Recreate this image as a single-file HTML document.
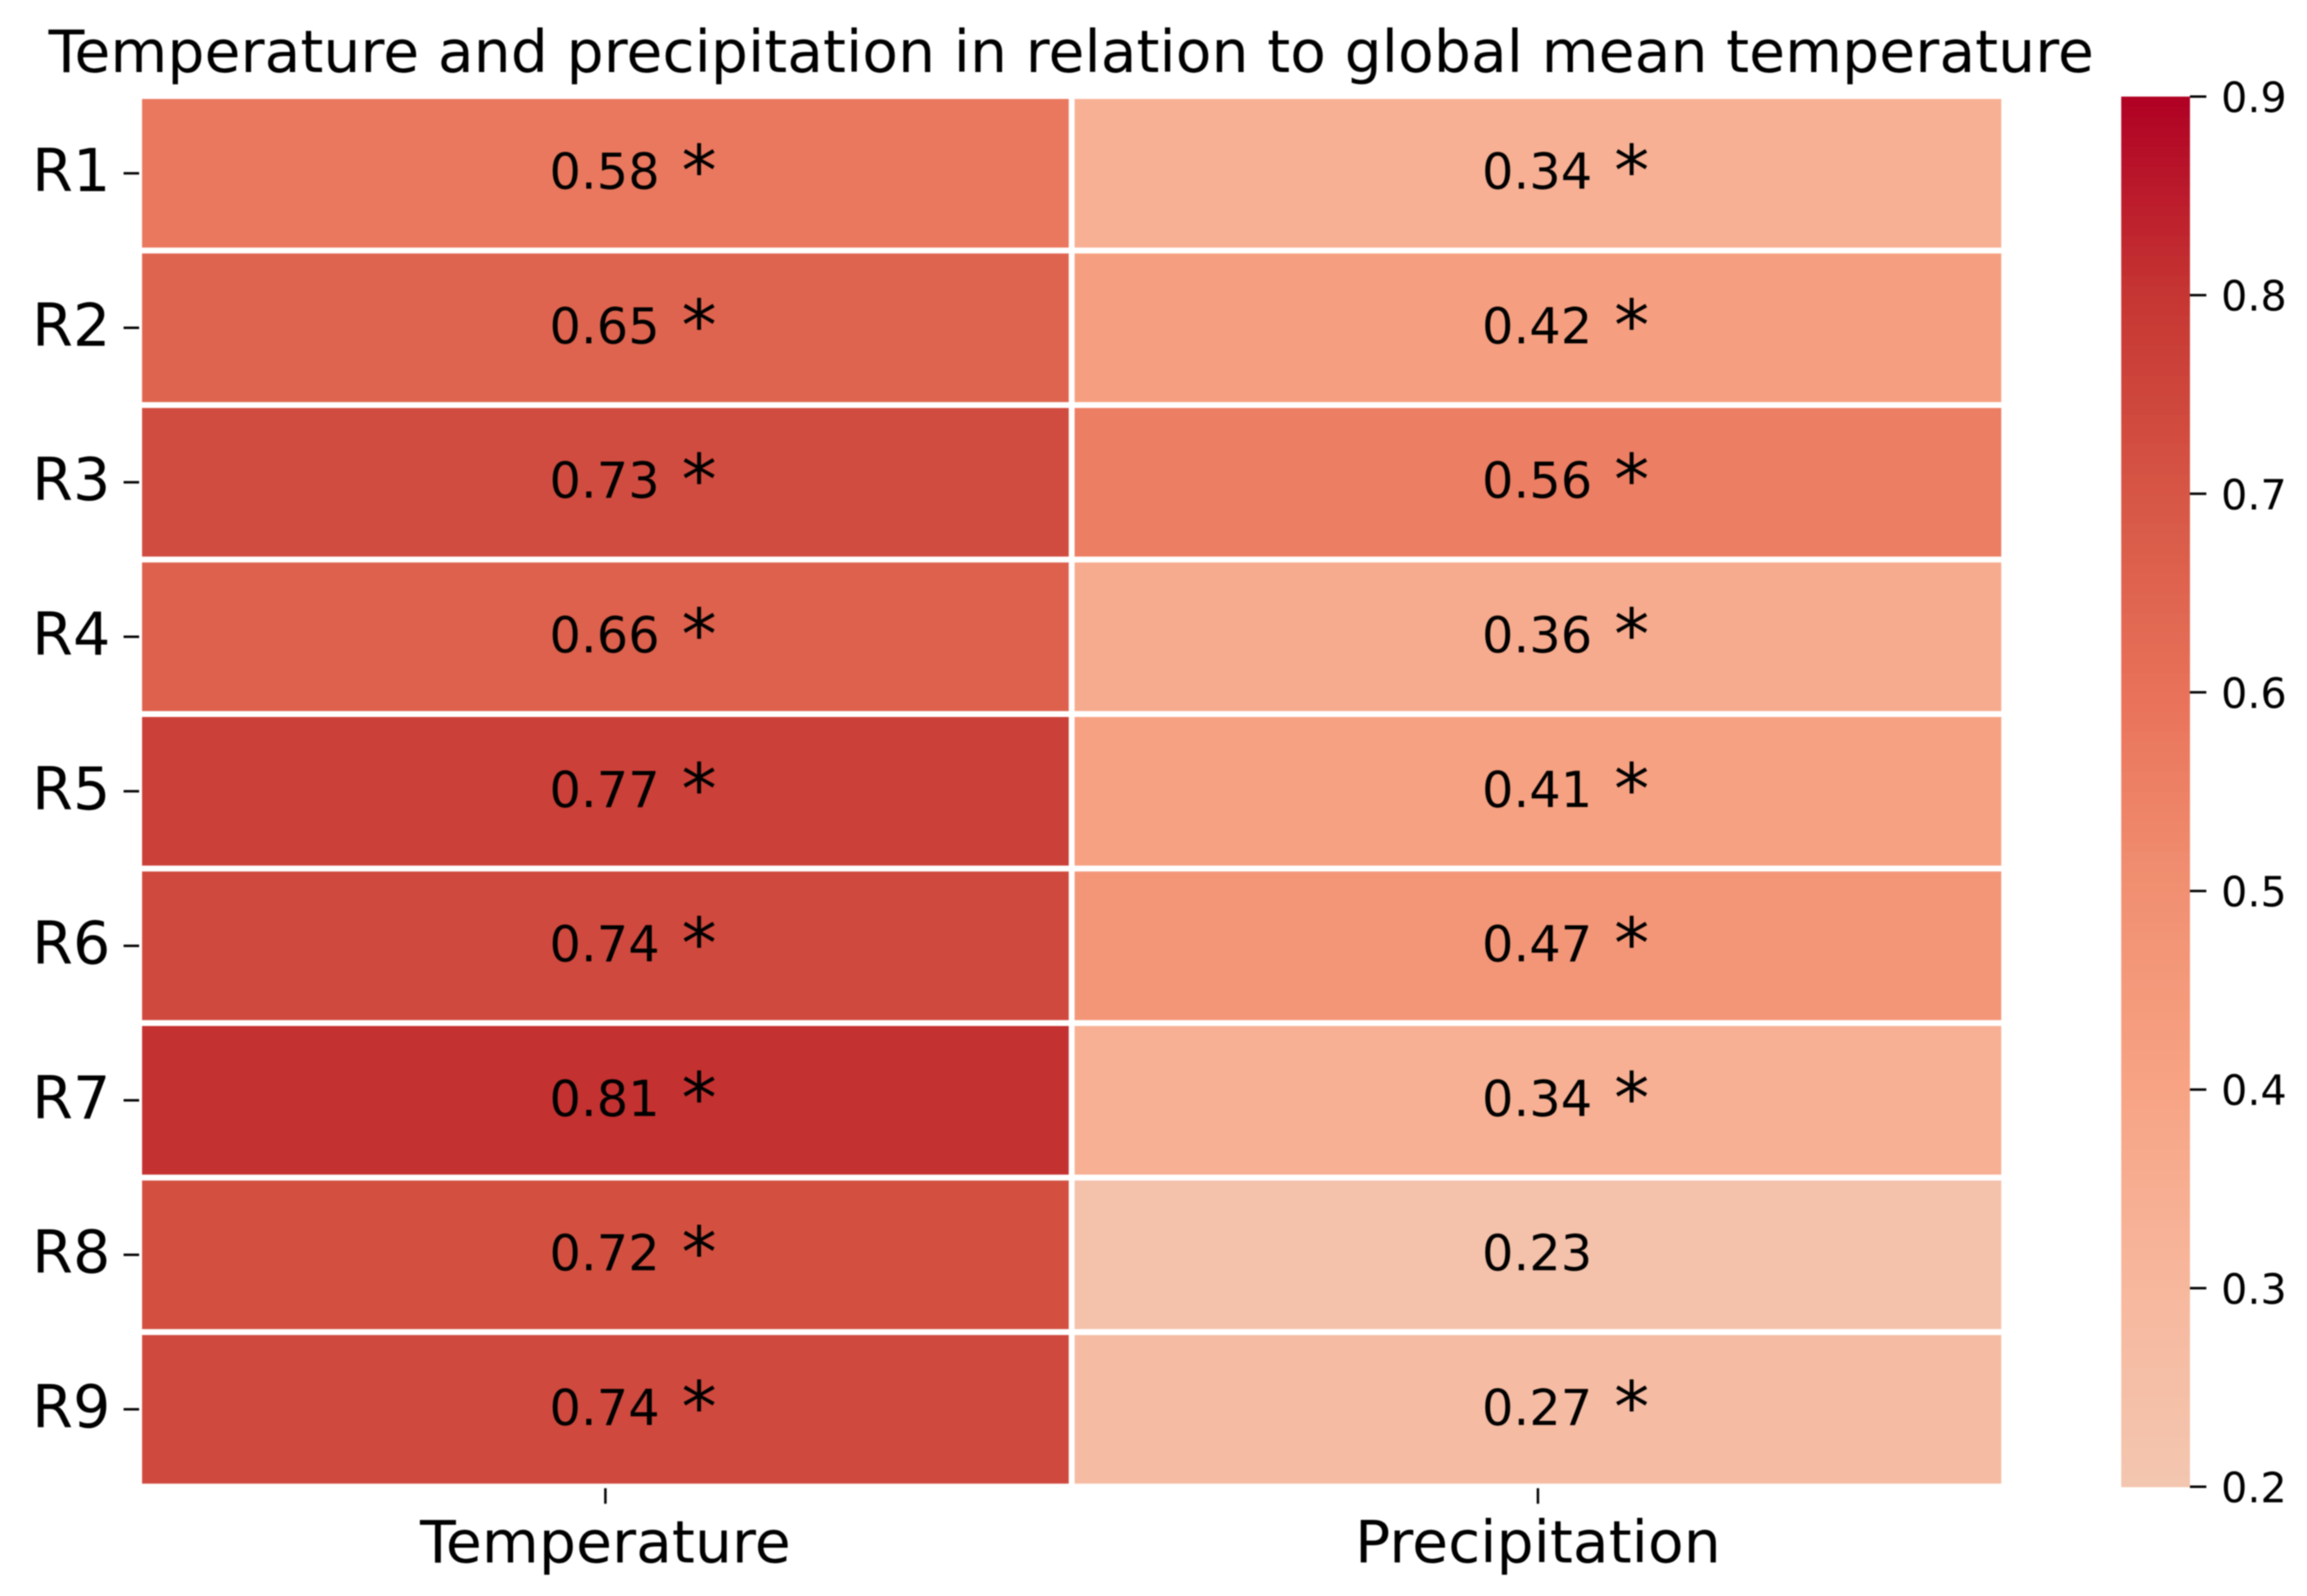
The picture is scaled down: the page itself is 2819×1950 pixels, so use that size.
<!DOCTYPE html>
<html lang="en">
<head>
<meta charset="utf-8">
<title>Temperature and precipitation in relation to global mean temperature</title>
<style>
html,body{margin:0;padding:0;background:#fff;}
svg{display:block;filter:blur(0.8px);}
text{font-family:"DejaVu Sans","Liberation Sans",sans-serif;fill:#000;}
</style>
</head>
<body>
<svg id="chart" xmlns="http://www.w3.org/2000/svg" width="2819" height="1950" viewBox="0 0 2819 1950">
  <rect x="0" y="0" width="2819" height="1950" fill="#ffffff"/>
  <text x="1309" y="88" font-size="71.5" text-anchor="middle">Temperature and precipitation in relation to global mean temperature</text>
  <g id="cells"></g>
  <g id="axes"></g>
  <g id="colorbar"></g>
</svg>
<script>
const rows = ['R1','R2','R3','R4','R5','R6','R7','R8','R9'];
const columns = ['Temperature','Precipitation'];
const temperature = [0.58,0.65,0.73,0.66,0.77,0.74,0.81,0.72,0.74];
const precipitation = [0.34,0.42,0.56,0.36,0.41,0.47,0.34,0.23,0.27];
const temperatureSignificant = [true,true,true,true,true,true,true,true,true];
const precipitationSignificant = [true,true,true,true,true,true,true,false,true];
const colorbarTicks = [0.2,0.3,0.4,0.5,0.6,0.7,0.8,0.9];
const colorRange = [0.2,0.9];
const rampColors = ['#f3c6b0','#f7b89e','#f7a384','#f19072','#e87259','#d65645','#c63633','#b00024'];

const NS = 'http://www.w3.org/2000/svg';
const plot = {left:170,right:2449,top:117.3,bottom:1816.3,gap:3.6};
const bar = {left:2592,right:2676,top:118,bottom:1816.5};

function xBand(i){
  const w = (plot.right-plot.left)/columns.length;
  return plot.left + i*w;
}
function yBand(i){
  const h = (plot.bottom-plot.top)/rows.length;
  return plot.top + i*h;
}
function yBar(v){
  return bar.bottom - (v-colorRange[0])/(colorRange[1]-colorRange[0])*(bar.bottom-bar.top);
}
function hexToRgb(h){
  return [parseInt(h.slice(1,3),16),parseInt(h.slice(3,5),16),parseInt(h.slice(5,7),16)];
}
function colorFor(v){
  const t = Math.max(0,Math.min(1,(v-colorRange[0])/(colorRange[1]-colorRange[0])));
  const p = t*(rampColors.length-1);
  const i = Math.min(Math.floor(p),rampColors.length-2);
  const f = p-i;
  const a = hexToRgb(rampColors[i]);
  const b = hexToRgb(rampColors[i+1]);
  return 'rgb('+a.map((c,k)=>Math.round(c+(b[k]-c)*f)).join(',')+')';
}
function make(tag,attrs,parent,txt){
  const el = document.createElementNS(NS,tag);
  for(const k in attrs){el.setAttribute(k,attrs[k]);}
  if(txt!==undefined){el.textContent=txt;}
  parent.appendChild(el);
  return el;
}

const cellsG = document.getElementById('cells');
const axesG = document.getElementById('axes');
const barG = document.getElementById('colorbar');
const seriesValues = [temperature,precipitation];
const seriesSig = [temperatureSignificant,precipitationSignificant];
const cw = (plot.right-plot.left)/columns.length;
const ch = (plot.bottom-plot.top)/rows.length;

columns.forEach((col,c)=>{
  rows.forEach((row,r)=>{
    const v = seriesValues[c][r];
    const cell = make('rect',{x:xBand(c)+plot.gap,y:yBand(r)+plot.gap,width:cw-2*plot.gap,height:ch-2*plot.gap,fill:colorFor(v)},cellsG);
    
    
    const cx = xBand(c)+cw/2;
    const cy = yBand(r)+ch/2;
    const label = make('text',{x:cx-1,y:cy+19,'font-size':60.5,'text-anchor':'middle'},cellsG,v.toFixed(2));
    
    
    if(seriesSig[c][r]){
      const star = make('text',{x:cx+114.5,y:cy+27,'font-size':86,'text-anchor':'middle'},cellsG,'*');
      
      
    }
  });
});

rows.forEach((row,r)=>{
  const cy = yBand(r)+ch/2;
  const tick = make('line',{x1:plot.left-19,x2:plot.left,y1:cy,y2:cy,stroke:'#000','stroke-width':3},axesG);
  
  
  const label = make('text',{x:plot.left-35,y:cy+22,'font-size':72,'text-anchor':'end'},axesG,row);
  
  
});

columns.forEach((col,c)=>{
  const cx = xBand(c)+cw/2;
  const tick = make('line',{x1:cx,x2:cx,y1:plot.bottom+2,y2:plot.bottom+21,stroke:'#000','stroke-width':3},axesG);
  
  
  const label = make('text',{x:cx,y:1909,'font-size':71.5,'text-anchor':'middle'},axesG,col);
  
  
});

const levels = 140;
for(let i=0;i<levels;i++){
  const v0 = colorRange[0]+(colorRange[1]-colorRange[0])*i/levels;
  const v1 = colorRange[0]+(colorRange[1]-colorRange[0])*(i+1)/levels;
  const seg = make('rect',{x:bar.left,y:yBar(v1),width:bar.right-bar.left,height:yBar(v0)-yBar(v1)+0.6,fill:colorFor((v0+v1)/2)},barG);
  
  
}
colorbarTicks.forEach(t=>{
  const y = yBar(t);
  const tick = make('line',{x1:bar.right,x2:bar.right+20,y1:y,y2:y,stroke:'#000','stroke-width':3},barG);
  
  
  const label = make('text',{x:bar.right+38,y:y+19,'font-size':50.5},barG,t.toFixed(1));
  
  
});
</script>
</body>
</html>
